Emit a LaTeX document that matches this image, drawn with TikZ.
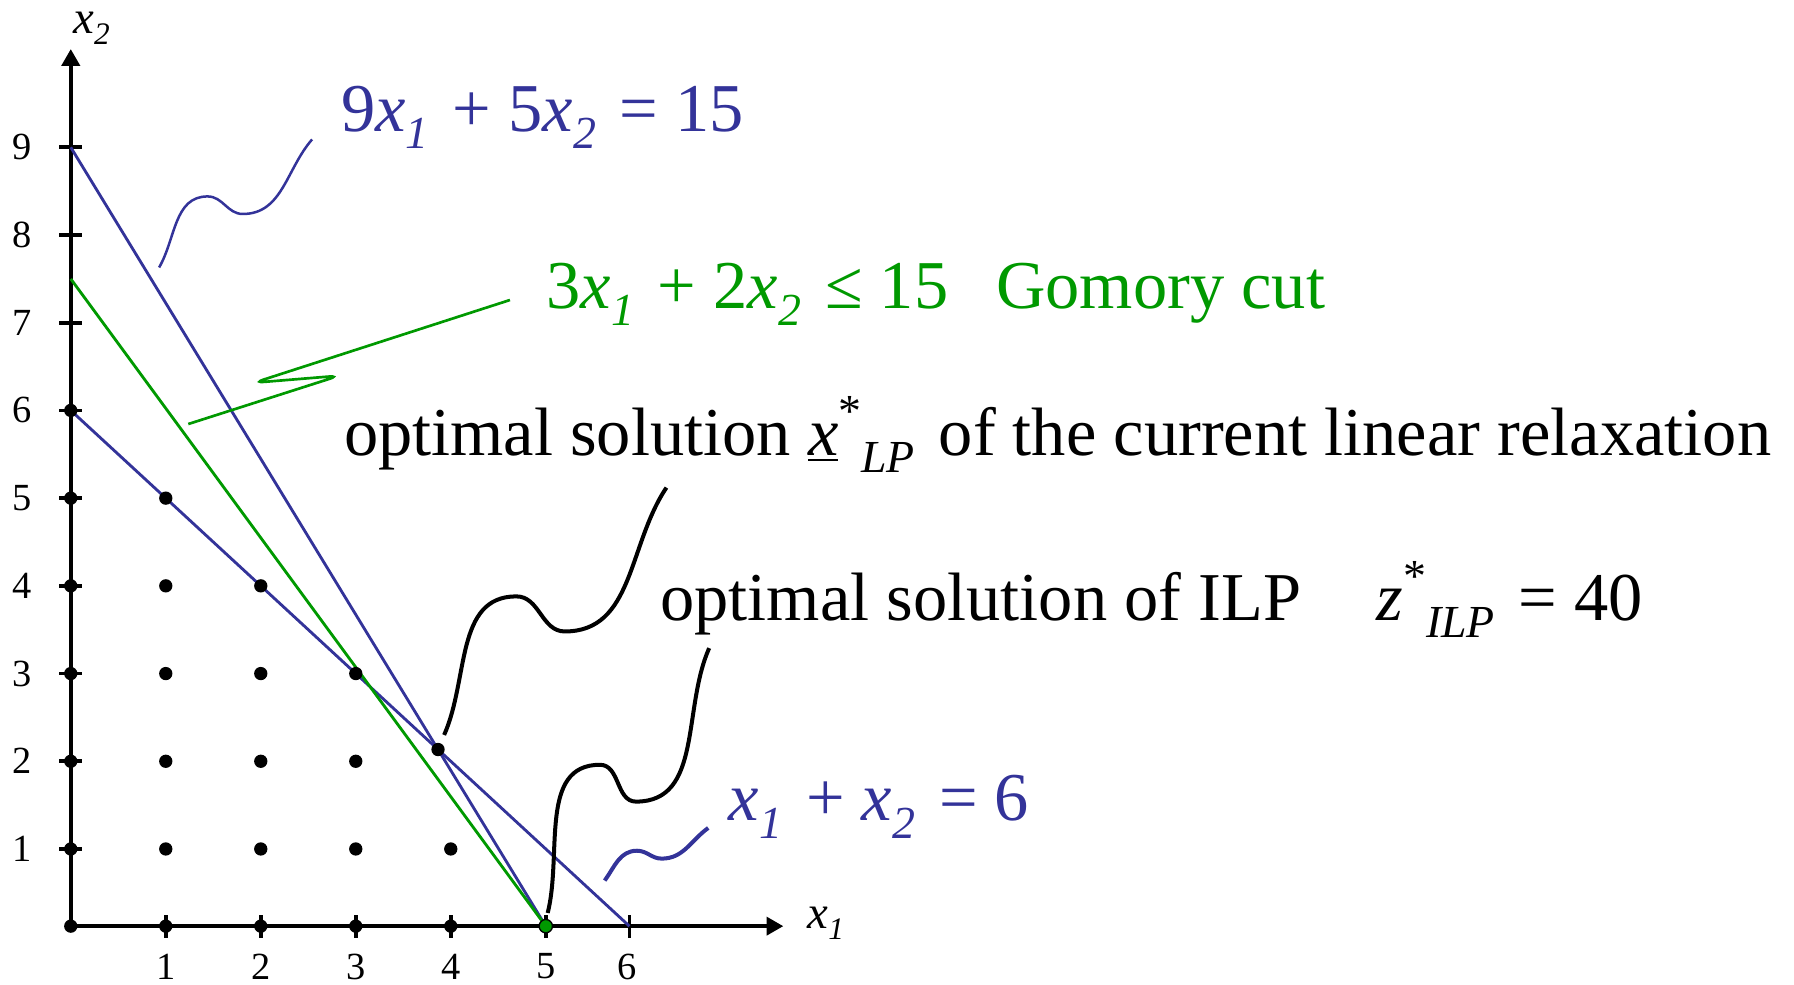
\documentclass[tikz,border=0pt]{standalone}
\usepackage{tikz}
\usepackage{fontspec}
\setmainfont{Liberation Serif}
\definecolor{ILPBlue}{RGB}{51,51,153}
\definecolor{ILPGreen}{RGB}{0,153,0}
\usetikzlibrary{arrows.meta, positioning}
\newcommand{\lsub}[1]{\raisebox{-0.25em}{\scalebox{0.67}{\itshape #1}}\kern0.1em\relax}
\newcommand{\lsup}[1]{\raisebox{0.42em}{\scalebox{0.67}{#1}}}

\begin{document}
\begin{tikzpicture}[x=1cm, y=0.9232cm,
        axis/.style={black, line width=1.1pt, -{Triangle[length=5pt, width=5.4pt]}},
        tick/.style={black, line width=1.1pt},
        ticklbl/.style={inner sep=0pt, font=\fontsize{11.5}{13}\selectfont},
        axlbl/.style={inner sep=0pt, font=\fontsize{14}{16}\selectfont},
        eq/.style={inner sep=0pt, anchor=base west, font=\fontsize{20.5}{24}\selectfont},
        cons/.style={line width=0.85pt},
        wave/.style={line width=1.2pt},
        dot/.style={circle, fill=black, inner sep=0pt, minimum size=0.14cm}
      ]
        \useasboundingbox (-0.745,-0.5405) rectangle (18.139,10.680);

        \coordinate (o) at (0,0.12);
        \coordinate (xtip) at (7.5,0.12);
        \coordinate (ytip) at (0,10.12);
        \coordinate (a9) at (0,9);
        \coordinate (a75) at (0,7.5);
        \coordinate (a6) at (0,6);
        \coordinate (b5) at (5,0.12);
        \coordinate (b6) at (5.88,0.12);
        \coordinate (lp) at (intersection of a9--b5 and a6--b6);

        \draw[axis] (o) -- (xtip);
        \draw[axis] (o) -- (ytip);
        \node[axlbl, right=0.25cm of xtip, anchor=base west, yshift=-0.02cm] (x1lbl) {\textit{x}\lsub{1}};
        \node[axlbl, anchor=base west] (x2lbl) at (0.02,10.30) {\textit{x}\lsub{2}};

        \draw[tick] (1,0.12) +(0,-0.13) -- +(0,0.13);
        \draw[tick] (2,0.12) +(0,-0.13) -- +(0,0.13);
        \draw[tick] (3,0.12) +(0,-0.13) -- +(0,0.13);
        \draw[tick] (4,0.12) +(0,-0.13) -- +(0,0.13);
        \draw[tick] (5,0.12) +(0,-0.13) -- +(0,0.13);
        \draw[tick] (b6) +(0,-0.13) -- +(0,0.13);
        \node[ticklbl] (tx1) at (1,-0.34) {1};
        \node[ticklbl] (tx2) at (2,-0.34) {2};
        \node[ticklbl] (tx3) at (3,-0.34) {3};
        \node[ticklbl] (tx4) at (4,-0.34) {4};
        \node[ticklbl] (tx5) at (5,-0.34) {5};
        \node[ticklbl] (tx6) at (5.86,-0.34) {6};

        \draw[tick] (0,1) +(-0.12,0) -- +(0.12,0);
        \draw[tick] (0,2) +(-0.12,0) -- +(0.12,0);
        \draw[tick] (0,3) +(-0.12,0) -- +(0.12,0);
        \draw[tick] (0,4) +(-0.12,0) -- +(0.12,0);
        \draw[tick] (0,5) +(-0.12,0) -- +(0.12,0);
        \draw[tick] (0,6) +(-0.12,0) -- +(0.12,0);
        \draw[tick] (0,7) +(-0.12,0) -- +(0.12,0);
        \draw[tick] (0,8) +(-0.12,0) -- +(0.12,0);
        \draw[tick] (0,9) +(-0.12,0) -- +(0.12,0);
        \node[ticklbl] (ty1) at (-0.51,1) {1};
        \node[ticklbl] (ty2) at (-0.51,2) {2};
        \node[ticklbl] (ty3) at (-0.51,3) {3};
        \node[ticklbl] (ty4) at (-0.51,4) {4};
        \node[ticklbl] (ty5) at (-0.51,5) {5};
        \node[ticklbl] (ty6) at (-0.51,6) {6};
        \node[ticklbl] (ty7) at (-0.51,7) {7};
        \node[ticklbl] (ty8) at (-0.51,8) {8};
        \node[ticklbl] (ty9) at (-0.51,9) {9};

        % constraint lines
        \draw[cons, ILPBlue] (a9) -- (b5);
        \draw[cons, ILPBlue] (a6) -- (b6);
        \draw[cons, ILPGreen] (a75) -- (b5);

        % integer points
        \node[dot] (d00) at (o) {};
        \node[dot] (d10) at (1,0.12) {};
        \node[dot] (d20) at (2,0.12) {};
        \node[dot] (d30) at (3,0.12) {};
        \node[dot] (d40) at (4,0.12) {};
        \node[dot] (d01) at (0,1) {};
        \node[dot] (d02) at (0,2) {};
        \node[dot] (d03) at (0,3) {};
        \node[dot] (d04) at (0,4) {};
        \node[dot] (d05) at (0,5) {};
        \node[dot] (d06) at (0,6) {};
        \node[dot] (d11) at (1,1) {};
        \node[dot] (d21) at (2,1) {};
        \node[dot] (d31) at (3,1) {};
        \node[dot] (d41) at (4,1) {};
        \node[dot] (d12) at (1,2) {};
        \node[dot] (d22) at (2,2) {};
        \node[dot] (d32) at (3,2) {};
        \node[dot] (d13) at (1,3) {};
        \node[dot] (d23) at (2,3) {};
        \node[dot] (d33) at (3,3) {};
        \node[dot] (d14) at (1,4) {};
        \node[dot] (d24) at (2,4) {};
        \node[dot] (d15) at (1,5) {};
        \node[dot] (lpdot) at (lp) {};
        \node[dot, fill=ILPGreen, draw=black, line width=0.4pt] (ilpdot) at (b5) {};

        % labels
        \node[eq, text=ILPBlue] (eq915) at (2.84,9.18)
          {9\textit{x}\lsub{1} + 5\textit{x}\lsub{2} = 15};
        \node[eq, text=ILPGreen] (cutlbl) at (5.0,7.16)
          {3\textit{x}\lsub{1} + 2\textit{x}\lsub{2} ≤ 15\hspace{0.7em}Gomory cut};
        \node[eq] (lplbl) at (2.87,5.49)
          {optimal solution \underline{\textit{x}}\lsup{*}\lsub{LP} of the current linear relaxation};
        \node[eq] (ilplbl) at (6.20,3.61)
          {optimal solution of ILP\hspace{1.1em}\textit{z}\lsup{*}\lsub{ILP} = 40};
        \node[eq, text=ILPBlue] (eq6) at (6.92,1.32)
          {\textit{x}\lsub{1} + \textit{x}\lsub{2} = 6};

        % callouts
        \coordinate (w1s) at (0.93,7.63);
        \coordinate (w1e) at (2.54,9.09);
        \coordinate (w2s) at (1.237,5.845);
        \coordinate (w2e) at (4.623,7.259);
        \coordinate (w3s) at (3.93,2.30);
        \coordinate (w3e) at (6.27,5.12);
        \coordinate (w4s) at (5.02,0.27);
        \coordinate (w4e) at (6.72,3.29);
        \coordinate (w5s) at (5.62,0.64);
        \coordinate (w5e) at (6.71,1.24);

        \draw[wave, ILPBlue, line width=0.75pt] (w1s) to[out=60,in=180] (1.44,8.44)
          to[out=0,in=180] (1.81,8.24) to[out=0,in=229] (w1e);
        \draw[wave, ILPGreen, line width=0.8pt, rounded corners=3pt] (w2s) -- (2.826,6.396)
          -- (1.928,6.316) -- (w2e);
        \draw[wave] (w3s) to[out=66,in=180] (4.69,3.88)
          to[out=0,in=180] (5.20,3.48) to[out=0,in=236] (w3e);
        \draw[wave] (w4s) to[out=76,in=180] (5.57,1.96)
          to[out=0,in=180] (5.95,1.54) to[out=0,in=246] (w4e);
        \draw[wave, ILPBlue, line width=1.2pt] (w5s) to[out=54,in=180] (5.96,0.98)
          to[out=0,in=180] (6.22,0.89) to[out=0,in=216] (w5e);
      \end{tikzpicture}
\end{document}
